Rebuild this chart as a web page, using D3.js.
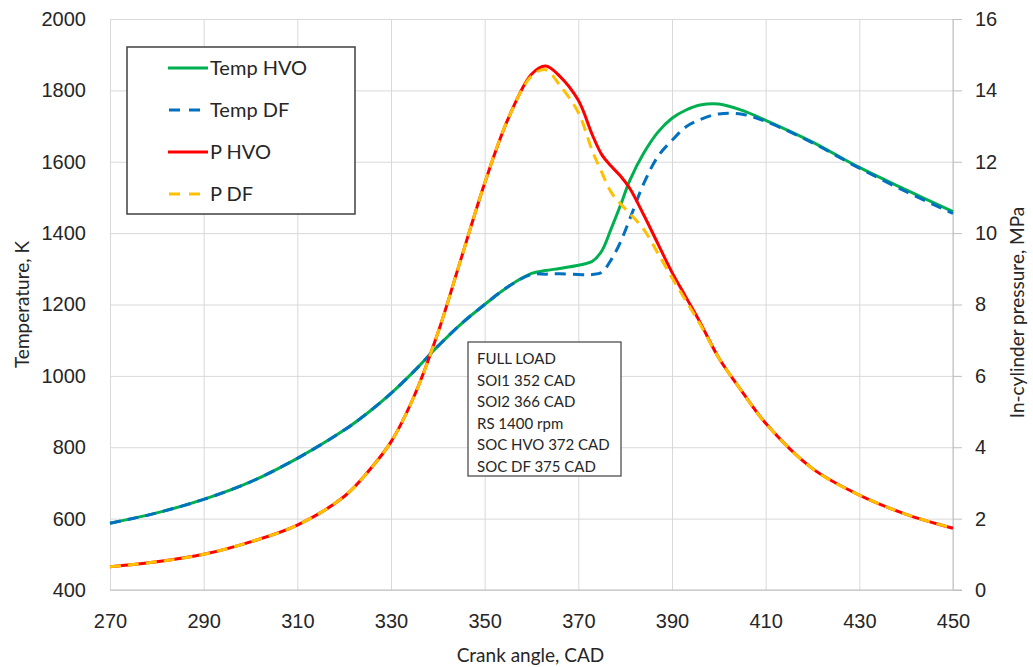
<!DOCTYPE html>
<html>
<head>
<meta charset="utf-8">
<script src="https://cdn.jsdelivr.net/npm/d3@7"></script>
<style>
  body { margin: 0; background: #fff; }
  svg { display: block; font-family: Lato, "Open Sans", sans-serif; }
  .grid line { stroke: #d9d9d9; stroke-width: 1; }
  .grid path { display: none; }
  .tick text { fill: #262626; }
</style>
</head>
<body>
<script>
// crank angle samples (CAD)
const crank = [270, 280, 290, 300, 310, 320, 325, 330, 335, 340, 345, 350, 355, 360, 363, 366, 370, 373, 375, 377, 379, 381, 384, 387, 390, 393, 396, 400, 405, 410, 420, 430, 440, 450];

// temperature, K
const tempHVO = [587, 616, 654, 703, 769, 848, 896, 951, 1014, 1083, 1146, 1200, 1250, 1287, 1295, 1301, 1310, 1321, 1350, 1412, 1478, 1548, 1625, 1683, 1722, 1745, 1759, 1762, 1744, 1716, 1655, 1584, 1521, 1460];
const tempDF = [587, 616, 654, 703, 769, 848, 896, 951, 1014, 1083, 1146, 1200, 1250, 1284, 1285, 1286, 1284, 1284, 1290, 1325, 1375, 1440, 1540, 1615, 1660, 1698, 1718, 1734, 1733, 1713, 1653, 1582, 1516, 1455];

// in-cylinder pressure, MPa
const pHVO = [0.65, 0.79, 1.0, 1.35, 1.82, 2.62, 3.3, 4.15, 5.45, 7.2, 9.3, 11.4, 13.2, 14.45, 14.68, 14.4, 13.72, 12.75, 12.2, 11.88, 11.6, 11.25, 10.5, 9.7, 8.9, 8.2, 7.5, 6.5, 5.55, 4.67, 3.4, 2.66, 2.12, 1.73];
const pDF = [0.65, 0.79, 1.0, 1.35, 1.82, 2.62, 3.3, 4.15, 5.45, 7.2, 9.3, 11.4, 13.2, 14.4, 14.58, 14.15, 13.38, 12.3, 11.7, 11.15, 10.82, 10.55, 10.1, 9.43, 8.75, 8.1, 7.45, 6.5, 5.55, 4.67, 3.4, 2.66, 2.12, 1.73];

const xTicks = [270, 290, 310, 330, 350, 370, 390, 410, 430, 450];
const tempTicks = [400, 600, 800, 1000, 1200, 1400, 1600, 1800, 2000];
const pTicks = [0, 2, 4, 6, 8, 10, 12, 14, 16];

const notes = ["FULL LOAD", "SOI1 352 CAD", "SOI2 366 CAD", "RS 1400 rpm", "SOC HVO 372 CAD", "SOC DF 375 CAD"];

const series = [
    { name: "Temp HVO", values: tempHVO, axis: "T", color: "#00b050", dash: null },
    { name: "Temp DF", values: tempDF, axis: "T", color: "#0070c0", dash: "11,7" },
    { name: "P HVO", values: pHVO, axis: "P", color: "#ff0000", dash: null },
    { name: "P DF", values: pDF, axis: "P", color: "#ffc000", dash: "11,7" }
];

const W = 1033, H = 667;
const m = { left: 110, right: 953, top: 19, bottom: 590 };

const svg = d3.select("body").append("svg")
    .attr("width", W)
    .attr("height", H);

const x = d3.scaleLinear().domain([270, 450]).range([m.left, m.right]);
const yT = d3.scaleLinear().domain([400, 2000]).range([m.bottom, m.top]);
const yP = d3.scaleLinear().domain([0, 16]).range([m.bottom, m.top]);

// grid
svg.append("g")
    .attr("class", "grid")
    .attr("transform", `translate(0,${m.bottom})`)
    .call(d3.axisBottom(x).tickValues(xTicks).tickSize(-(m.bottom - m.top)).tickFormat(""));
svg.append("g")
    .attr("class", "grid")
    .attr("transform", `translate(${m.left},0)`)
    .call(d3.axisLeft(yT).tickValues(tempTicks).tickSize(-(m.right - m.left)).tickFormat(""));

// outer axis lines
svg.append("line")
    .attr("x1", m.left).attr("x2", m.right + 9)
    .attr("y1", m.bottom).attr("y2", m.bottom)
    .attr("stroke", "#bfbfbf");
svg.append("line")
    .attr("x1", m.right).attr("x2", m.right)
    .attr("y1", m.top).attr("y2", m.bottom)
    .attr("stroke", "#bfbfbf");

// x axis labels
const xAxis = svg.append("g")
    .attr("transform", `translate(0,${m.bottom})`)
    .call(d3.axisBottom(x).tickValues(xTicks).tickSize(0).tickPadding(24));
xAxis.select(".domain").remove();
xAxis.selectAll("text").style("font-size", "20px");

// left axis labels
const yAxisL = svg.append("g")
    .attr("transform", `translate(${m.left},0)`)
    .call(d3.axisLeft(yT).tickValues(tempTicks).tickFormat(d3.format("d")).tickSize(0).tickPadding(24));
yAxisL.select(".domain").remove();
yAxisL.selectAll("text").style("font-size", "20px");

// right axis labels with short outer ticks
const yAxisR = svg.append("g")
    .attr("transform", `translate(${m.right},0)`)
    .call(d3.axisRight(yP).tickValues(pTicks).tickSize(9).tickPadding(13));
yAxisR.select(".domain").remove();
yAxisR.selectAll("line").attr("stroke", "#bfbfbf");
yAxisR.selectAll("text").style("font-size", "20px");

// axis titles
svg.append("text")
    .attr("x", (m.left + m.right) / 2 - 1)
    .attr("y", 662)
    .attr("text-anchor", "middle")
    .style("font-size", "19px")
    .attr("fill", "#262626")
    .text("Crank angle, CAD");
svg.append("text")
    .attr("transform", `translate(29,${(m.top + m.bottom) / 2}) rotate(-90)`)
    .attr("text-anchor", "middle")
    .style("font-size", "19px")
    .attr("fill", "#262626")
    .text("Temperature, K");
svg.append("text")
    .attr("transform", `translate(1024,${(m.top + m.bottom) / 2 + 8}) rotate(-90)`)
    .attr("text-anchor", "middle")
    .style("font-size", "19px")
    .attr("fill", "#262626")
    .text("In-cylinder pressure, MPa");

// curves (smoothed like the spreadsheet lines)
series.forEach(s => {
    const yS = s.axis === "T" ? yT : yP;
    const line = d3.line()
        .x((d, i) => x(crank[i]))
        .y(d => yS(d))
        .curve(d3.curveCatmullRom.alpha(0.5));
    svg.append("path")
        .datum(s.values)
        .attr("fill", "none")
        .attr("stroke", s.color)
        .attr("stroke-width", 3)
        .attr("stroke-dasharray", s.dash)
        .attr("d", line);
});

// legend
const legend = svg.append("g");
legend.append("rect")
    .attr("x", 127).attr("y", 47)
    .attr("width", 228).attr("height", 167)
    .attr("fill", "#fff")
    .attr("stroke", "#404040")
    .attr("stroke-width", 1.5);
series.forEach((s, i) => {
    const yy = 68 + i * 42;
    legend.append("line")
        .attr("x1", 168).attr("x2", 208)
        .attr("y1", yy).attr("y2", yy)
        .attr("stroke", s.color)
        .attr("stroke-width", 3)
        .attr("stroke-dasharray", s.dash ? "11,9" : null)
        .attr("stroke-dashoffset", s.dash ? -1 : null);
    legend.append("text")
        .attr("x", 210).attr("y", yy + 7)
        .style("font-size", "20px")
        .attr("fill", "#262626")
        .text(s.name);
});

// annotation box
const note = svg.append("g");
note.append("rect")
    .attr("x", 468).attr("y", 342)
    .attr("width", 153).attr("height", 134)
    .attr("fill", "#fff")
    .attr("stroke", "#404040")
    .attr("stroke-width", 1.2);
notes.forEach((t, i) => {
    note.append("text")
        .attr("x", 477)
        .attr("y", 364 + i * 21.6)
        .style("font-size", "15px")
        .attr("fill", "#262626")
        .text(t);
});
</script>
</body>
</html>
